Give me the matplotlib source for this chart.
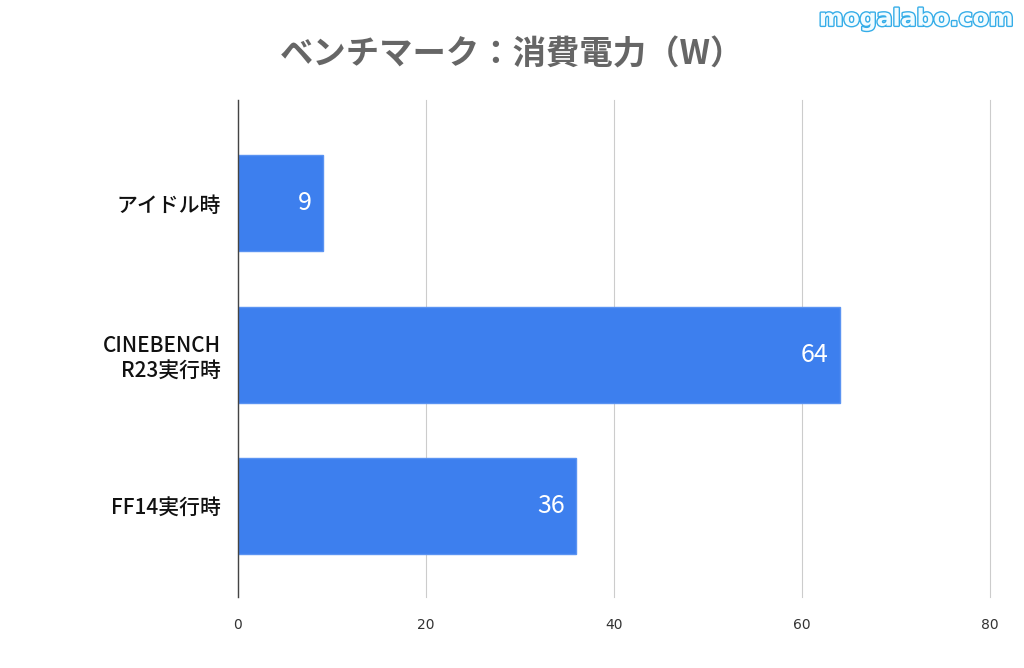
import matplotlib.pyplot as plt
import matplotlib.patheffects as pe

plt.rcParams['font.family'] = ['Noto Sans CJK JP', 'DejaVu Sans']

categories = ['アイドル時', 'CINEBENCH\nR23実行時', 'FF14実行時']
values = [9, 64, 36]
xticks = [0, 20, 40, 60, 80]

fig = plt.figure(figsize=(10.24, 6.68), dpi=100)
ax = fig.add_axes([0.2324, 0.106, 0.7344, 0.744])

ypos = list(range(len(categories)))
ax.barh(ypos, values, height=0.635, color='#3D7FEE', edgecolor='#5A93F2', linewidth=1, zorder=3)

for y, v in zip(ypos, values):
    ax.text(v - 1.2, y, str(v), ha='right', va='center', color='white', fontsize=18, zorder=4)

ax.set_xlim(0, 80)
ax.set_ylim(2.6, -0.68)
ax.set_yticks(ypos)
ax.set_yticklabels(categories, fontsize=15, color='#111111', fontweight='medium')
ax.set_xticks(xticks)
ax.set_xticklabels([str(t) for t in xticks], fontsize=10, color='#333333', family='DejaVu Sans')
ax.tick_params(axis='both', length=0)
ax.tick_params(axis='y', pad=12)
ax.tick_params(axis='x', pad=15)

ax.grid(axis='x', color='#cccccc', linewidth=0.8, zorder=0)
for g in ax.xaxis.get_gridlines():
    g.set_clip_on(False)
for s in ['top', 'right', 'bottom']:
    ax.spines[s].set_visible(False)
ax.spines['left'].set_color('#444444')
ax.spines['left'].set_linewidth(1)
ax.spines['left'].set_zorder(5)

fig.text(0.5, 0.918, 'ベンチマーク：消費電力（W）', ha='center', va='center',
         fontsize=24, fontweight='bold', color='#666666')

wm = fig.text(0.99, 0.972, 'mogalabo.com', ha='right', va='center', fontsize=17,
              fontweight='bold', color='#f2fcff', family='DejaVu Sans')
wm.set_path_effects([pe.Stroke(linewidth=2, foreground='#35ade8'), pe.Normal()])

fig.savefig('out.png', dpi=100, facecolor='white')
